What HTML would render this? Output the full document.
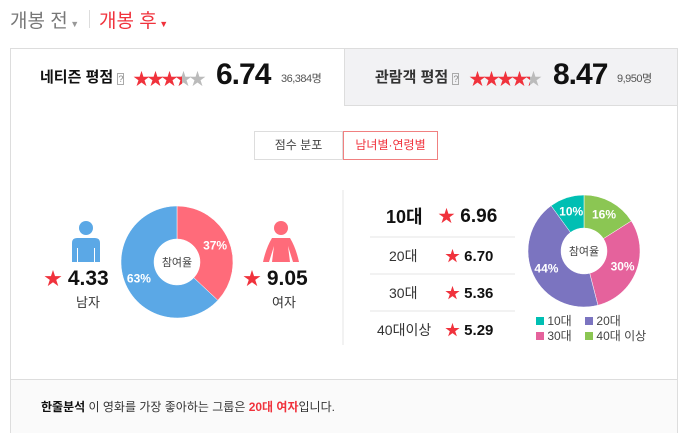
<!DOCTYPE html>
<html><head><meta charset="utf-8"><style>
body{margin:0;width:683px;height:439px;background:#fff;font-family:"Liberation Sans","Noto Sans CJK KR",sans-serif;position:relative;overflow:hidden}
.a{position:absolute;white-space:nowrap}
.hs{position:relative;display:inline-block;color:#bbb}
.hs i{position:absolute;left:0;top:0;width:50%;overflow:hidden;color:#f0323c;font-style:normal}
</style></head><body>
<div class="a" style="left:10px;top:6px;font-size:19px;color:#777">개봉 전<span style="font-size:9px;color:#999"> ▼</span></div>
<div class="a" style="left:89px;top:10px;width:1px;height:18px;background:#ddd"></div>
<div class="a" style="left:99px;top:6px;font-size:19px;color:#f0323c">개봉 후<span style="font-size:9px"> ▼</span></div>

<div class="a" style="left:10px;top:48px;width:668px;height:385px;border:1px solid #ddd;box-sizing:border-box"></div>
<div class="a" style="left:344px;top:48px;width:334px;height:58px;background:#f2f2f4;border-left:1px solid #ddd;border-bottom:1px solid #ddd;border-top:1px solid #ddd;border-right:1px solid #ddd;box-sizing:border-box"></div>

<div class="a" style="left:40px;top:66px;font-size:15px;font-weight:bold;color:#111">네티즌 평점 <span style="font-size:9px;color:#888;border:1px solid #aaa;font-weight:normal">?</span></div>
<div class="a" style="left:133px;top:65px;font-size:17px;letter-spacing:-3px"><span style="color:#f0323c">★★★</span><span class="hs">★<i>★</i></span><span style="color:#bbb">★</span></div>
<div class="a" style="left:216px;top:58px;font-size:30px;font-weight:bold;color:#111;letter-spacing:-1px">6.74</div>
<div class="a" style="left:281px;top:70px;font-size:11px;color:#555;letter-spacing:-0.5px">36,384명</div>

<div class="a" style="left:375px;top:66px;font-size:15px;font-weight:bold;color:#333">관람객 평점 <span style="font-size:9px;color:#888;border:1px solid #aaa;font-weight:normal">?</span></div>
<div class="a" style="left:469px;top:65px;font-size:17px;letter-spacing:-3px"><span style="color:#f0323c">★★★★</span><span class="hs">★<i style="width:35%">★</i></span></div>
<div class="a" style="left:553px;top:58px;font-size:30px;font-weight:bold;color:#111;letter-spacing:-1px">8.47</div>
<div class="a" style="left:617px;top:70px;font-size:11px;color:#555;letter-spacing:-0.5px">9,950명</div>

<div class="a" style="left:254px;top:131px;width:89px;height:29px;border:1px solid #ddd;box-sizing:border-box;font-size:12px;color:#444;text-align:center;line-height:27px">점수 분포</div>
<div class="a" style="left:343px;top:131px;width:95px;height:29px;border:1px solid #f08080;box-sizing:border-box;font-size:12px;color:#f0323c;text-align:center;line-height:27px">남녀별·연령별</div>

<svg class="a" style="left:0;top:0" width="683" height="439">
 <g fill="#5ba8e6"><circle cx="86" cy="228" r="7"/><path d="M72 262V243Q72 238 77 238H95Q100 238 100 243V262H95V248H94V262H78V248H77V262Z"/></g>
 <g fill="#ff6b7a"><circle cx="281" cy="228" r="7"/><path d="M272 238H290Q296 248 299 262H293L288 246L290 262H272L274 246L269 262H263Q266 248 272 238Z"/></g>
 <g id="g1"></g><g id="g2"></g>
 <line x1="343" y1="190" x2="343" y2="345" stroke="#e5e5e5"/>
 <g stroke="#e5e5e5"><line x1="370" y1="237" x2="515" y2="237"/><line x1="370" y1="274" x2="515" y2="274"/><line x1="370" y1="311" x2="515" y2="311"/></g>
</svg>

<div class="a" style="left:44px;top:265px;font-size:21px;font-weight:bold;color:#111"><span style="color:#f0323c;font-size:18px">★</span> 4.33</div>
<div class="a" style="left:76px;top:292px;font-size:13px;color:#333">남자</div>
<div class="a" style="left:243px;top:265px;font-size:21px;font-weight:bold;color:#111"><span style="color:#f0323c;font-size:18px">★</span> 9.05</div>
<div class="a" style="left:272px;top:292px;font-size:13px;color:#333">여자</div>

<div class="a" style="left:386px;top:203px;font-size:18px;font-weight:bold;color:#111">10대</div>
<div class="a" style="left:438px;top:202px;font-size:19px;font-weight:bold;color:#111"><span style="color:#f0323c;font-size:17px">★</span> 6.96</div>
<div class="a" style="left:389px;top:246px;font-size:14px;color:#333">20대</div>
<div class="a" style="left:445px;top:245px;font-size:15px;font-weight:bold;color:#111"><span style="color:#f0323c">★</span> 6.70</div>
<div class="a" style="left:389px;top:283px;font-size:14px;color:#333">30대</div>
<div class="a" style="left:445px;top:282px;font-size:15px;font-weight:bold;color:#111"><span style="color:#f0323c">★</span> 5.36</div>
<div class="a" style="left:377px;top:320px;font-size:14px;color:#333">40대이상</div>
<div class="a" style="left:445px;top:319px;font-size:15px;font-weight:bold;color:#111"><span style="color:#f0323c">★</span> 5.29</div>

<div class="a" style="left:536px;top:314px;font-size:12px;color:#444;line-height:15px">
<div><span style="display:inline-block;width:8px;height:8px;background:#00bfb3"></span> 10대 &nbsp;&nbsp;&nbsp;<span style="display:inline-block;width:8px;height:8px;background:#7b74c0"></span> 20대</div>
<div><span style="display:inline-block;width:8px;height:8px;background:#e5629c"></span> 30대 &nbsp;&nbsp;&nbsp;<span style="display:inline-block;width:8px;height:8px;background:#8bc653"></span> 40대 이상</div></div>

<div class="a" style="left:11px;top:379px;width:666px;height:53px;background:#fafafa;border-top:1px solid #ddd"></div>
<div class="a" style="left:41px;top:398px;font-size:12px;color:#333"><b style="color:#111">한줄분석</b> 이 영화를 가장 좋아하는 그룹은 <b style="color:#f0323c">20대 여자</b>입니다.</div>

<script>
const genderLabels=["여자","남자"];
const genderValues=[37,63];
const genderColors=["#ff6b7a","#5ba8e6"];
const ageLabels=["40대 이상","30대","20대","10대"];
const ageValues=[16,30,44,10];
const ageColors=["#8bc653","#e5629c","#7b74c0","#00bfb3"];
const NS="http://www.w3.org/2000/svg";
function donut(gid,cx,cy,R,r,vals,cols,names){
 const g=document.getElementById(gid);
 const tot=vals.reduce((a,b)=>a+b,0);let a0=0;
 vals.forEach((v,i)=>{
  const a1=a0+v/tot*2*Math.PI;
  const p=(a,rad)=>[cx+rad*Math.sin(a),cy-rad*Math.cos(a)];
  const [x0,y0]=p(a0,R),[x1,y1]=p(a1,R),[x2,y2]=p(a1,r),[x3,y3]=p(a0,r);
  const lg=a1-a0>Math.PI?1:0;
  const path=document.createElementNS(NS,"path");
  path.setAttribute("d",`M${x0} ${y0}A${R} ${R} 0 ${lg} 1 ${x1} ${y1}L${x2} ${y2}A${r} ${r} 0 ${lg} 0 ${x3} ${y3}Z`);
  path.setAttribute("fill",cols[i]);path.setAttribute("stroke","#fff");path.setAttribute("stroke-width","0.5");
  
  
  g.appendChild(path);
  const am=(a0+a1)/2,[tx,ty]=p(am,(R+r)/2+2);
  const t=document.createElementNS(NS,"text");
  t.setAttribute("x",tx);t.setAttribute("y",ty+4);t.setAttribute("text-anchor","middle");
  t.setAttribute("fill","#fff");t.setAttribute("font-size","12");t.setAttribute("font-weight","bold");
  t.setAttribute("font-family","Liberation Sans, sans-serif");
  t.textContent=v+"%";
  
  
  g.appendChild(t);a0=a1;});
 const c=document.createElementNS(NS,"text");
 c.setAttribute("x",cx);c.setAttribute("y",cy+4);c.setAttribute("text-anchor","middle");
 c.setAttribute("fill","#444");c.setAttribute("font-size","11");
 c.setAttribute("font-family","Liberation Sans, Noto Sans CJK KR, sans-serif");
 c.textContent="참여율";
 
 
 g.appendChild(c);
}
donut("g1",177,262,56,23,genderValues,genderColors,genderLabels);
donut("g2",584,251,56,23,ageValues,ageColors,ageLabels);
</script>
</body></html>
